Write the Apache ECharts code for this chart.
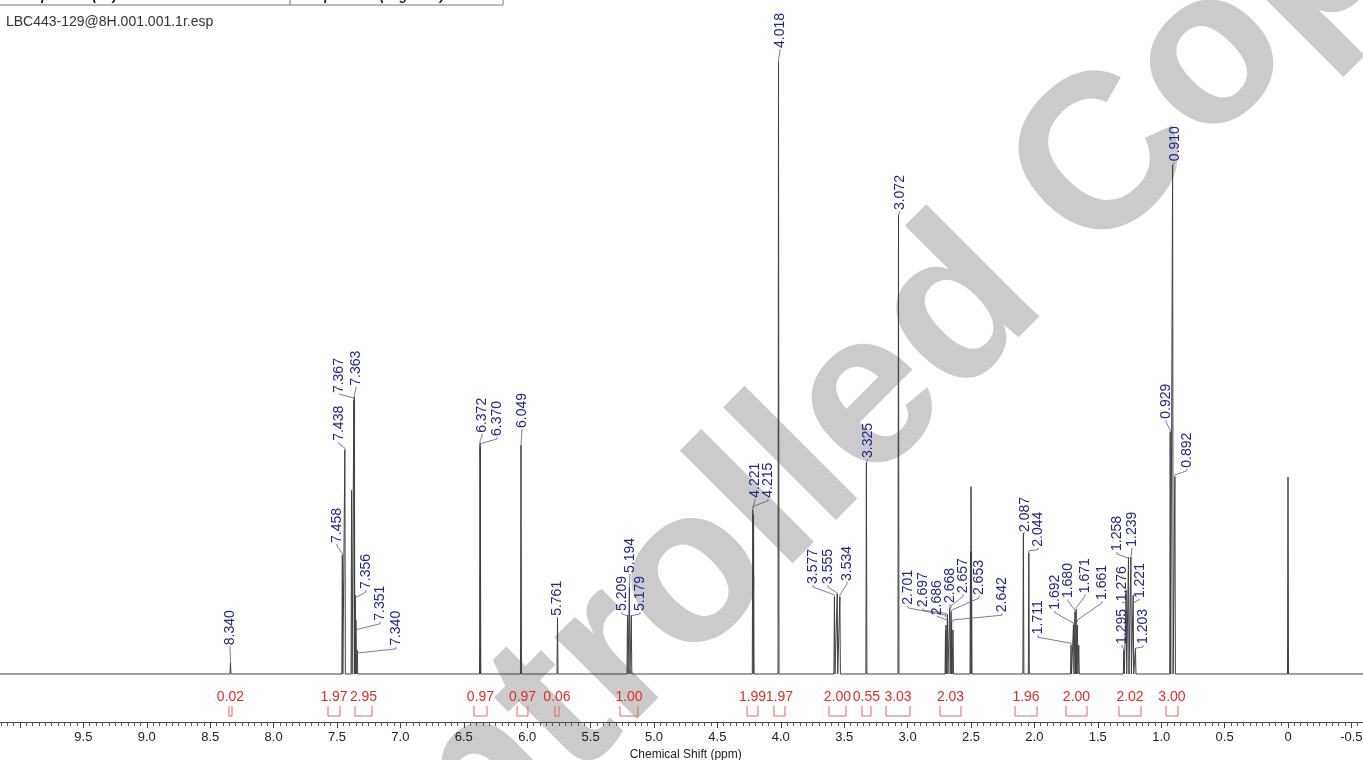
<!DOCTYPE html>
<html>
<head>
<meta charset="utf-8">
<title>LBC443-129 1H NMR</title>
<script src="https://cdn.jsdelivr.net/npm/echarts@6/dist/echarts.min.js"></script>
<style>
  html, body { margin: 0; padding: 0; background: #ffffff; }
  #chart { width: 1363px; height: 760px; }
</style>
</head>
<body>
<div id="chart"></div>
<script>
// ---- spectrum lines: chemical shift (ppm) and relative intensity ----
const peakShifts = [
  8.340, 7.458, 7.438, 7.385, 7.367, 7.363, 7.356, 7.351, 7.340,
  6.372, 6.370, 6.049, 5.761, 5.209, 5.194, 5.179,
  4.221, 4.215, 4.018, 3.577, 3.555, 3.534, 3.325, 3.072,
  2.701, 2.697, 2.686, 2.668, 2.657, 2.653, 2.642,
  2.504, 2.500, 2.496,
  2.087, 2.044, 1.711, 1.692, 1.680, 1.671, 1.661, 1.650,
  1.295, 1.276, 1.258, 1.239, 1.221, 1.203,
  0.929, 0.910, 0.892, 0.000
];
const peakHeights = [
  1.8, 19.4, 36.6, 30.0, 44.8, 45.3, 12.9, 8.8, 3.9,
  37.7, 37.1, 37.4, 9.2, 9.6, 14.2, 9.6,
  26.8, 26.1, 100.0, 12.6, 13.1, 12.6, 34.6, 75.0,
  7.2, 8.0, 9.8, 10.8, 10.1, 8.5, 7.2,
  20.0, 30.6, 20.0,
  23.0, 19.8, 4.7, 8.0, 10.1, 10.5, 8.0, 4.7,
  3.9, 13.7, 19.1, 19.1, 12.9, 4.2,
  39.5, 83.2, 32.2, 32.2
];

// ---- picked peaks (labelled) ----
const labelShifts = [
  8.340, 7.458, 7.438, 7.367, 7.363, 7.356, 7.351, 7.340,
  6.372, 6.370, 6.049, 5.761, 5.209, 5.194, 5.179,
  4.221, 4.215, 4.018, 3.577, 3.555, 3.534, 3.325, 3.072,
  2.701, 2.697, 2.686, 2.668, 2.657, 2.653, 2.642,
  2.087, 2.044, 1.711, 1.692, 1.680, 1.671, 1.661,
  1.295, 1.276, 1.258, 1.239, 1.221, 1.203,
  0.929, 0.910, 0.892
];
// label placement: shift where the text stands, height of the text foot, height where the leader meets the line
const labelAt = [
  8.344, 7.500, 7.484, 7.484, 7.350, 7.271, 7.161, 7.035,
  6.356, 6.238, 6.041, 5.765, 5.252, 5.189, 5.110,
  4.203, 4.101, 4.006, 3.746, 3.628, 3.478, 3.312, 3.060,
  2.997, 2.879, 2.768, 2.666, 2.563, 2.437, 2.256,
  2.074, 1.972, 1.972, 1.838, 1.735, 1.601, 1.467,
  1.309, 1.309, 1.349, 1.230, 1.167, 1.144,
  0.962, 0.891, 0.797
];
const labelBase = [
  4.7, 21.4, 38.1, 45.9, 47.1, 13.9, 8.7, 4.6,
  39.4, 38.9, 40.2, 9.5, 10.3, 16.5, 10.3,
  28.8, 28.8, 102.3, 14.7, 14.7, 15.2, 35.3, 75.8,
  11.3, 10.9, 9.6, 11.6, 13.2, 12.9, 10.1,
  23.2, 20.8, 6.5, 10.5, 12.4, 13.2, 12.1,
  4.9, 11.9, 20.1, 20.8, 12.4, 4.9,
  41.7, 83.8, 33.7
];
const leaderEnd = [
  1.8, 19.4, 36.6, 45.1, 45.3, 12.1, 6.9, 3.1,
  37.7, 37.3, 37.4, 9.2, 9.2, 14.2, 9.2,
  26.8, 27.1, 100.0, 12.6, 12.9, 12.6, 34.6, 75.0,
  9.3, 9.6, 8.8, 10.3, 10.8, 10.1, 8.5,
  23.0, 19.8, 4.7, 8.0, 10.1, 10.5, 8.5,
  3.9, 11.6, 18.6, 19.0, 11.6, 3.9,
  39.5, 83.2, 32.2
];

// ---- integrals ----
const integralValues = ['0.02', '1.97', '2.95', '0.97', '0.97', '0.06', '1.00', '1.99', '1.97',
                        '2.00', '0.55', '3.03', '2.03', '1.96', '2.00', '2.02', '3.00'];
const integralFrom = [8.352, 7.571, 7.358, 6.420, 6.080, 5.781, 5.268, 4.266, 4.054,
                      3.620, 3.360, 3.170, 2.744, 2.153, 1.751, 1.333, 0.962];
const integralTo   = [8.328, 7.476, 7.224, 6.317, 5.994, 5.749, 5.126, 4.180, 3.967,
                      3.486, 3.289, 2.981, 2.579, 1.979, 1.585, 1.159, 0.868];

// ---- axis ticks ----
const tickValues = [9.5, 9.0, 8.5, 8.0, 7.5, 7.0, 6.5, 6.0, 5.5, 5.0, 4.5, 4.0,
                    3.5, 3.0, 2.5, 2.0, 1.5, 1.0, 0.5, 0.0, -0.5];
const tickLabels = ['9.5', '9.0', '8.5', '8.0', '7.5', '7.0', '6.5', '6.0', '5.5', '5.0', '4.5', '4.0',
                    '3.5', '3.0', '2.5', '2.0', '1.5', '1.0', '0.5', '0', '-0.5'];

const FONT = '"Liberation Sans", Arial, Helvetica, sans-serif';

// each line is drawn as a narrow spike on the baseline
const SPIKE = 0.004;
function buildTrace() {
  const order = peakShifts.map((s, i) => i).sort((a, b) => peakShifts[b] - peakShifts[a]);
  const pts = [[10.5, 0]];
  order.forEach(i => {
    const s = peakShifts[i];
    pts.push([s + SPIKE, 0], [s, peakHeights[i]], [s - SPIKE, 0]);
  });
  pts.push([-1.0, 0]);
  return pts;
}

function renderPeakLabel(params, api) {
  const i = params.dataIndex;
  const lp = api.coord([labelAt[i], labelBase[i]]);
  const ep = api.coord([labelShifts[i], leaderEnd[i]]);
  const lx = lp[0], lb = lp[1];
  const px = ep[0], py = ep[1];
  let pts;
  if (Math.abs(lx - px) < 1.2) {
    pts = [[lx, lb + 1], [px, py]];
  } else if (py - 2 > lb + 3) {
    pts = [[lx, lb + 1], [lx, lb + 3], [px, py - 2], [px, py]];
  } else {
    pts = [[lx, lb + 1], [px, py]];
  }
  return {
    type: 'group',
    children: [
      { type: 'polyline', shape: { points: pts },
        style: { stroke: '#5a5a7e', lineWidth: 0.8, fill: null } },
      { type: 'text', x: lx, y: lb, rotation: Math.PI / 2,
        style: { text: labelShifts[i].toFixed(3), x: 0, y: 0, align: 'left', verticalAlign: 'middle',
                 fill: '#23238c', font: '14px ' + FONT } }
    ]
  };
}

function renderIntegral(params, api) {
  const i = params.dataIndex;
  const a = api.coord([integralFrom[i], 0]);
  const b = api.coord([integralTo[i], 0]);
  const y0 = a[1];
  const x1 = a[0], x2 = b[0];
  return {
    type: 'group',
    children: [
      { type: 'text', x: (x1 + x2) / 2, y: y0 + 23,
        style: { text: integralValues[i], align: 'center', verticalAlign: 'middle',
                 fill: '#e42a2a', font: '14px ' + FONT } },
      { type: 'polyline',
        shape: { points: [[x1, y0 + 32], [x1, y0 + 42], [x2, y0 + 42], [x2, y0 + 32]] },
        style: { stroke: '#e06868', lineWidth: 1, fill: null } }
    ]
  };
}

const chart = echarts.init(document.getElementById('chart'), null, { renderer: 'canvas' });

chart.setOption({
  animation: false,
  backgroundColor: '#ffffff',
  grid: { left: -43.4, right: -51.8, top: 62, bottom: 86, containLabel: false, outerBoundsMode: 'none' },
  xAxis: {
    type: 'value',
    inverse: true,
    min: -1.0,
    max: 10.5,
    interval: 0.5,
    offset: 48,
    axisLine: { show: true, onZero: false, lineStyle: { color: '#444444', width: 1 } },
    axisTick: { show: true, length: 6, lineStyle: { color: '#444444' } },
    minorTick: { show: true, splitNumber: 10, length: 4, lineStyle: { color: '#555555' } },
    splitLine: { show: false },
    axisLabel: {
      margin: 9,
      fontSize: 13,
      fontFamily: FONT,
      color: '#222222',
      formatter: function (v) {
        const k = tickValues.findIndex(t => Math.abs(t - v) < 1e-6);
        return k >= 0 ? tickLabels[k] : '';
      }
    },
    name: 'Chemical Shift (ppm)',
    nameLocation: 'middle',
    nameGap: 27,
    nameTextStyle: { fontSize: 12, fontFamily: FONT, color: '#222222' }
  },
  yAxis: { type: 'value', show: false, min: 0, max: 100 },
  graphic: [
    { type: 'text', x: 834, y: 436, rotation: 45 * Math.PI / 180, z: 0,
      style: { text: 'Controlled Copy', align: 'center', verticalAlign: 'middle',
               fill: '#cbcbcb', font: 'bold 220px ' + FONT } },
    // acquisition table row (top edge)
    { type: 'line', z: 1, shape: { x1: 0, y1: 5, x2: 503, y2: 5 }, style: { stroke: '#777777', lineWidth: 1 } },
    { type: 'line', z: 1, shape: { x1: 290, y1: 0, x2: 290, y2: 5 }, style: { stroke: '#777777', lineWidth: 1 } },
    { type: 'line', z: 1, shape: { x1: 503, y1: 0, x2: 503, y2: 5 }, style: { stroke: '#777777', lineWidth: 1 } },
    { type: 'text', z: 1, x: 8, y: -4,
      style: { text: 'Sweep Width (Hz)', verticalAlign: 'middle', fill: '#111111', font: 'italic bold 13px ' + FONT } },
    { type: 'text', z: 1, x: 182, y: -4,
      style: { text: '9191.18', verticalAlign: 'middle', fill: '#111111', font: '13px ' + FONT } },
    { type: 'text', z: 1, x: 298, y: -4,
      style: { text: 'Temperature (degree C) 24.995', verticalAlign: 'middle', fill: '#111111', font: 'italic bold 13px ' + FONT } },
    { type: 'text', z: 1, x: 6, y: 22,
      style: { text: 'LBC443-129@8H.001.001.1r.esp', verticalAlign: 'middle', fill: '#333333', font: '14px ' + FONT } }
  ],
  series: [
    {
      type: 'line',
      z: 3,
      data: buildTrace(),
      showSymbol: false,
      symbol: 'none',
      clip: false,
      lineStyle: { color: '#404040', width: 1 }
    },
    {
      type: 'custom',
      z: 4,
      data: labelShifts.map((s, i) => [s, i]),
      renderItem: renderPeakLabel,
      clip: false
    },
    {
      type: 'custom',
      z: 4,
      data: integralValues.map((v, i) => [integralFrom[i], i]),
      renderItem: renderIntegral,
      clip: false
    }
  ]
});
</script>
</body>
</html>
